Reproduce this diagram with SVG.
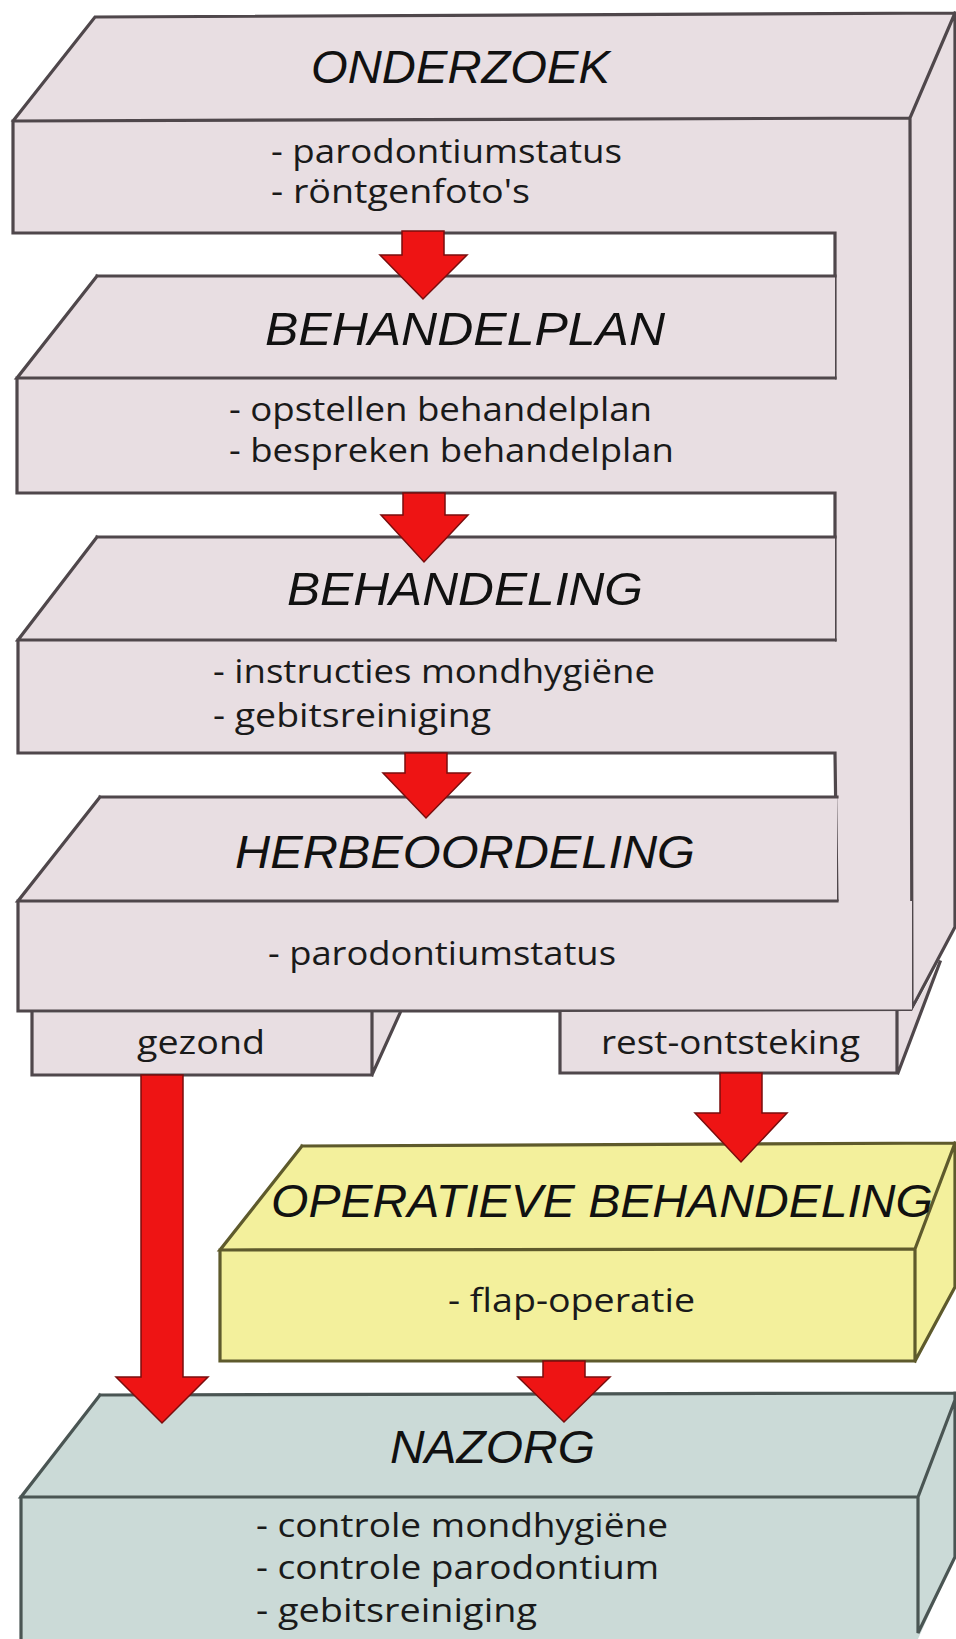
<svg xmlns="http://www.w3.org/2000/svg" width="956" height="1639" viewBox="0 0 956 1639">
<defs>
<style>
.pink{fill:#e8dee2;stroke:none}
.yel{fill:#f3f09c;stroke:none}
.teal{fill:#cbdad7;stroke:none}
.ln{fill:none;stroke:#4f474b;stroke-width:3.2;stroke-linecap:square;stroke-linejoin:miter}
.lny{fill:none;stroke:#5e5a2c;stroke-width:3.2;stroke-linecap:square}
.lnt{fill:none;stroke:#4a5553;stroke-width:3.2;stroke-linecap:square}
.hd{font-family:"Liberation Sans",Arial,sans-serif;font-style:italic;font-size:47px;fill:#111}
.tx{font-family:"Open Sans","Liberation Sans",sans-serif;font-size:32px;fill:#1a1a1a}
.arrow{fill:#ee1414;stroke:#7a0d0d;stroke-width:1.5;stroke-linejoin:miter}
</style>
</defs>
<rect x="0" y="0" width="956" height="1639" fill="#ffffff"/>

<g id="onderzoek">
<polygon class="pink" points="13,121 95,17 955,13 955,927 912,1008 835,1008 835,233 13,233"/>
<path class="ln" d="M13,121 L95,17 L955,13 M13,121 L910,118 L955,13 M13,121 L13,233 L835,233 L835,378 M910,118 L912,1008 M955,13 L955,927 L912,1008"/>
<text class="hd" x="311" y="83" textLength="299" lengthAdjust="spacingAndGlyphs">ONDERZOEK</text>
<text class="tx" x="271" y="163" textLength="351" lengthAdjust="spacingAndGlyphs">- parodontiumstatus</text>
<text class="tx" x="271" y="203" textLength="259" lengthAdjust="spacingAndGlyphs">- röntgenfoto's</text>
</g>

<g id="behandelplan">
<polygon class="pink" points="97,276 835,276 835,493 17,493 17,378"/>
<path class="ln" d="M97,276 L835,276 M97,276 L17,378 L835,378 M17,378 L17,493 L835,493 L835,640"/>
<text class="hd" x="265" y="345" textLength="400" lengthAdjust="spacingAndGlyphs">BEHANDELPLAN</text>
<text class="tx" x="229" y="421" textLength="423" lengthAdjust="spacingAndGlyphs">- opstellen behandelplan</text>
<text class="tx" x="229" y="462" textLength="445" lengthAdjust="spacingAndGlyphs">- bespreken behandelplan</text>
</g>

<g id="behandeling">
<polygon class="pink" points="97,537 835,537 835,753 18,753 18,640"/>
<path class="ln" d="M97,537 L835,537 M97,537 L18,640 L835,640 M18,640 L18,753 L835,753 L837,901"/>
<text class="hd" x="287" y="605" textLength="356" lengthAdjust="spacingAndGlyphs">BEHANDELING</text>
<text class="tx" x="213" y="683" textLength="442" lengthAdjust="spacingAndGlyphs">- instructies mondhygiëne</text>
<text class="tx" x="213" y="727" textLength="278" lengthAdjust="spacingAndGlyphs">- gebitsreiniging</text>
</g>

<g id="herbeoordeling">
<polygon class="pink" points="100,797 837,797 837,901 912,901 912,1011 18,1011 18,901"/>
<path class="ln" d="M100,797 L837,797 M100,797 L18,901 L837,901 M18,901 L18,1011 L912,1011"/>
<text class="hd" x="235" y="868" textLength="460" lengthAdjust="spacingAndGlyphs">HERBEOORDELING</text>
<text class="tx" x="268" y="965" textLength="348" lengthAdjust="spacingAndGlyphs">- parodontiumstatus</text>
</g>

<g id="gezond">
<polygon class="pink" points="32,1013 400,1013 372,1075 32,1075"/>
<path class="ln" d="M32,1013 L32,1075 L372,1075 L372,1013 M372,1075 L400,1013"/>
<text class="tx" x="137" y="1054" textLength="128" lengthAdjust="spacingAndGlyphs">gezond</text>
</g>

<g id="rest-ontsteking">
<polygon class="pink" points="560,1012 912,1011 940,962 898,1073 560,1073"/>
<path class="ln" d="M560,1012 L560,1073 L897,1073 L897,1012 M898,1073 L940,962"/>
<text class="tx" x="601" y="1054" textLength="259" lengthAdjust="spacingAndGlyphs">rest-ontsteking</text>
</g>

<g id="operatieve-behandeling">
<polygon class="yel" points="302,1146 955,1143 955,1287 915,1361 220,1361 220,1250"/>
<path class="lny" d="M302,1146 L955,1143 M302,1146 L220,1250 L915,1249 L955,1143 M220,1250 L220,1361 L915,1361 L915,1249 M915,1361 L955,1287 L955,1143"/>
<text class="hd" x="271" y="1217" font-size="48" textLength="662" lengthAdjust="spacingAndGlyphs">OPERATIEVE BEHANDELING</text>
<text class="tx" x="448" y="1312" textLength="247" lengthAdjust="spacingAndGlyphs">- flap-operatie</text>
</g>

<g id="nazorg">
<polygon class="teal" points="100,1395 955,1393 955,1557 918,1639 21,1639 21,1497"/>
<path class="lnt" d="M100,1395 L955,1393 M100,1395 L21,1497 L918,1497 L955,1400 M21,1497 L21,1639 M918,1497 L918,1633 L955,1557 L955,1393"/>
<text class="hd" x="390" y="1463" font-size="45" textLength="205" lengthAdjust="spacingAndGlyphs">NAZORG</text>
<text class="tx" x="256" y="1537" textLength="412" lengthAdjust="spacingAndGlyphs">- controle mondhygiëne</text>
<text class="tx" x="256" y="1579" textLength="403" lengthAdjust="spacingAndGlyphs">- controle parodontium</text>
<text class="tx" x="256" y="1622" textLength="281" lengthAdjust="spacingAndGlyphs">- gebitsreiniging</text>
</g>

<g id="connectors">
<polygon class="arrow" points="402,231 444,231 444,255 467,255 423,299 380,255 402,255"/>
<polygon class="arrow" points="403,493 445,493 445,515 468,515 424,562 381,515 403,515"/>
<polygon class="arrow" points="405,753 447,753 447,773 470,773 426,818 383,773 405,773"/>
<polygon class="arrow" points="141,1075 183,1075 183,1377 208,1377 162,1423 116,1377 141,1377"/>
<polygon class="arrow" points="720,1073 762,1073 762,1113 787,1113 741,1162 695,1113 720,1113"/>
<polygon class="arrow" points="543,1361 585,1361 585,1377 610,1377 564,1422 518,1377 543,1377"/>
</g>
</svg>
